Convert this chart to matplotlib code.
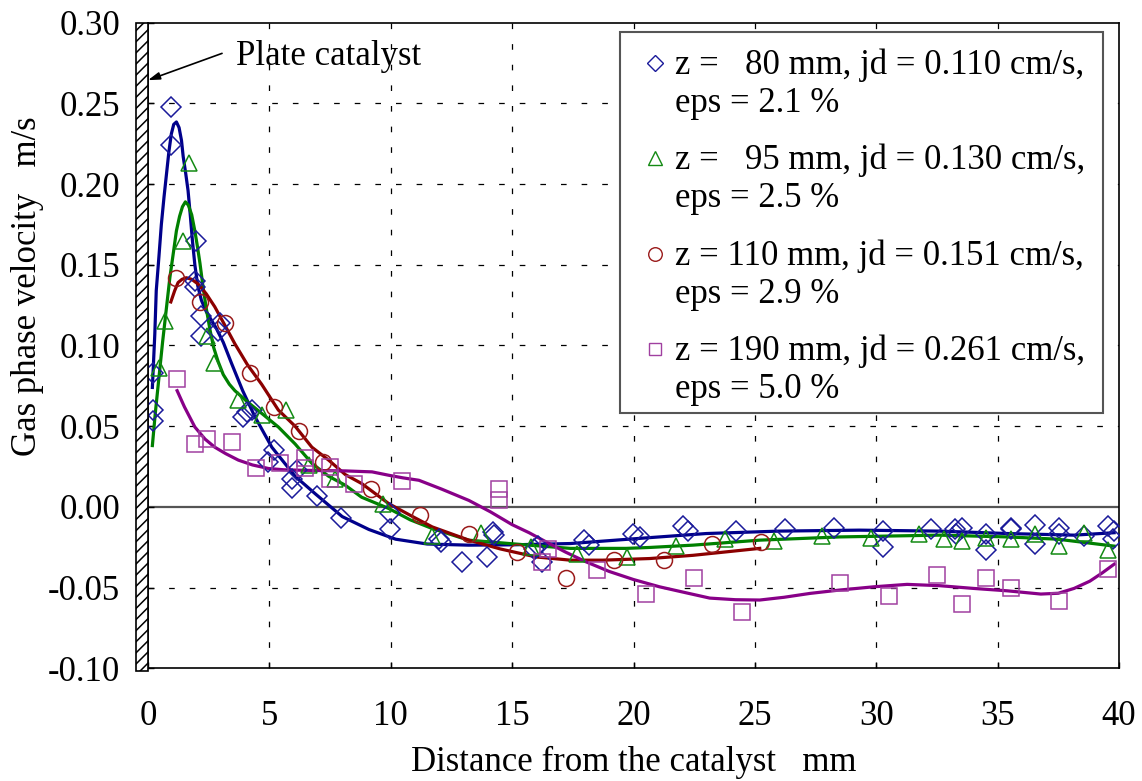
import matplotlib
matplotlib.use("Agg")
import matplotlib.pyplot as plt
from matplotlib.patches import Rectangle
from matplotlib.lines import Line2D

plt.rcParams['font.family'] = ['Liberation Serif', 'DejaVu Serif']
plt.rcParams['hatch.linewidth'] = 1.1

# ---- measured points -------------------------------------------------------
x80 = [0.2, 0.2, 0.2, 0.94, 0.94, 1.97, 1.93, 1.93, 2.18, 2.18, 2.96, 2.89,
       3.93, 4.06, 4.27, 5.19, 4.96, 5.92, 5.95, 6.13, 6.96, 7.93, 9.96, 9.96,
       11.98, 12.05, 12.95, 13.98, 14.2, 14.26, 15.9, 16.05, 16.22, 17.98, 18.18,
       19.97, 20.25, 22.04, 22.24, 24.24, 26.25, 28.26, 30.27, 30.27, 32.27,
       33.26, 33.3, 33.54, 34.53, 34.53, 35.54, 35.54, 36.53, 36.53, 37.53,
       37.53, 38.54, 39.53, 39.8, 39.75]
y80 = [0.083, 0.060, 0.053, 0.248, 0.224, 0.165, 0.140, 0.136, 0.118, 0.106,
       0.114, 0.109, 0.056, 0.059, 0.060, 0.035, 0.028, 0.017, 0.012, 0.023,
       0.007, -0.007, -0.004, -0.014, -0.020, -0.022, -0.034, -0.031, -0.0155,
       -0.0176, -0.026, -0.024, -0.034, -0.0206, -0.0237, -0.017, -0.0186,
       -0.012, -0.015, -0.015, -0.014, -0.013, -0.015, -0.025, -0.014, -0.014,
       -0.017, -0.013, -0.017, -0.027, -0.013, -0.014, -0.011, -0.023, -0.013,
       -0.017, -0.018, -0.012, -0.015, -0.020]

x95 = [0.45, 0.69, 1.45, 1.68, 2.41, 2.73, 3.69, 4.68, 5.68, 6.65, 7.7, 9.69,
       11.71, 13.7, 15.77, 17.67, 19.74, 21.74, 23.75, 25.77, 27.77, 29.78,
       31.78, 32.79, 33.53, 34.53, 35.54, 36.54, 37.53, 38.54, 39.53]
y95 = [0.086, 0.115, 0.165, 0.213, 0.106, 0.089, 0.066, 0.057, 0.060, 0.026,
       0.017, 0.002, -0.018, -0.016, -0.025, -0.029, -0.031, -0.024, -0.020,
       -0.021, -0.018, -0.019, -0.017, -0.020, -0.021, -0.019, -0.020, -0.017,
       -0.024, -0.016, -0.027]

x110 = [1.17, 2.14, 3.17, 4.2, 5.19, 6.2, 7.2, 9.2, 11.2, 13.22, 15.22, 17.22,
        19.21, 21.24, 23.24, 25.24]
y110 = [0.142, 0.127, 0.114, 0.083, 0.062, 0.047, 0.028, 0.011, -0.005, -0.017,
        -0.028, -0.044, -0.033, -0.033, -0.023, -0.022]

x190 = [1.2, 1.93, 2.44, 3.44, 4.45, 5.44, 6.45, 6.45, 7.48, 7.48, 8.47, 10.47,
        14.46, 14.46, 16.22, 16.49, 18.5, 20.5, 22.5, 24.49, 28.51, 30.51,
        32.51, 33.54, 34.53, 35.54, 37.53, 39.53]
y190 = [0.079, 0.039, 0.042, 0.040, 0.024, 0.027, 0.030, 0.024, 0.025, 0.017,
        0.014, 0.016, 0.0114, 0.0041, -0.034, -0.026, -0.039, -0.054, -0.044,
        -0.065, -0.047, -0.055, -0.042, -0.060, -0.044, -0.0505, -0.058, -0.0385]

# ---- fitted trend lines ----------------------------------------------------
fx80 = [0.18, 0.28, 0.34, 0.45, 0.55, 0.66, 0.76, 0.86, 0.96, 1.06, 1.17, 1.28,
        1.38, 1.45, 1.55, 1.65, 1.74, 1.83, 1.93, 2.05, 2.2, 2.4, 2.6, 2.8, 3.1,
        3.44, 3.9, 4.4, 5.1, 6.06, 6.9, 8.0, 9.1, 10.2, 11.5, 13.2, 15.0, 17.4,
        20.7, 23.0, 26.0, 29.3, 32.6, 35.4, 38.15, 39.8]
fy80 = [0.074, 0.107, 0.134, 0.155, 0.175, 0.192, 0.206, 0.220, 0.231, 0.237,
        0.2385, 0.235, 0.227, 0.217, 0.207, 0.196, 0.181, 0.165, 0.150, 0.137,
        0.128, 0.121, 0.116, 0.111, 0.102, 0.089, 0.072, 0.056, 0.037, 0.019,
        0.008, -0.006, -0.014, -0.020, -0.023, -0.0237, -0.0235, -0.0227,
        -0.019, -0.0165, -0.015, -0.0144, -0.015, -0.0165, -0.0175, -0.016]

fx95 = [0.18, 0.3, 0.45, 0.6, 0.75, 0.9, 1.05, 1.17, 1.3, 1.42, 1.54, 1.66,
        1.8, 1.93, 2.04, 2.14, 2.27, 2.4, 2.55, 2.7, 2.89, 3.1, 3.35, 3.58, 4.1,
        4.68, 5.37, 6.06, 6.75, 7.44, 8.13, 8.8, 9.92, 10.8, 11.71, 13.2, 15.7,
        17.4, 19.7, 20.7, 22.45, 25.2, 28.5, 32.6, 35.4, 37.47, 39.8]
fy95 = [0.038, 0.058, 0.080, 0.102, 0.122, 0.142, 0.158, 0.171, 0.180, 0.186,
        0.189, 0.187, 0.181, 0.171, 0.161, 0.151, 0.136, 0.123, 0.110, 0.099,
        0.090, 0.082, 0.076, 0.072, 0.065, 0.058, 0.0495, 0.039, 0.027, 0.019,
        0.0134, 0.006, -0.001, -0.008, -0.0134, -0.0206, -0.0237, -0.0257,
        -0.0257, -0.0251, -0.0237, -0.0206, -0.0186, -0.0175, -0.0186, -0.020,
        -0.0243]

fx110 = [0.94, 1.1, 1.24, 1.4, 1.58, 1.8, 2.07, 2.4, 2.75, 3.15, 3.58, 4.1,
         4.68, 5.37, 6.06, 6.75, 7.44, 8.13, 8.8, 9.92, 10.9, 11.71, 13.22,
         14.5, 15.98, 17.4, 18.73, 20.66, 22.45, 25.2]
fy110 = [0.127, 0.134, 0.139, 0.141, 0.142, 0.141, 0.138, 0.132, 0.124, 0.113,
         0.101, 0.088, 0.076, 0.060, 0.050, 0.037, 0.029, 0.020, 0.0145, 0.002,
         -0.006, -0.0124, -0.0206, -0.026, -0.031, -0.033, -0.033, -0.032,
         -0.030, -0.0257]

fx190 = [1.2, 1.5, 1.93, 2.35, 2.75, 3.2, 3.72, 4.3, 4.96, 5.6, 6.34, 7.2, 8.13,
         9.23, 9.92, 10.5, 11.16, 12.1, 13.22, 14.1, 15.0, 15.7, 16.39, 17.2,
         18.04, 19.0, 20.0, 21.07, 22.1, 23.14, 24.2, 25.2, 26.2, 27.27, 28.5,
         29.9, 31.27, 32.6, 34.0, 35.4, 36.78, 37.5, 38.15, 38.8, 39.3, 39.8]
fy190 = [0.072, 0.062, 0.0495, 0.042, 0.037, 0.033, 0.029, 0.026, 0.0238,
         0.023, 0.0227, 0.0225, 0.0223, 0.0217, 0.0196, 0.018, 0.0165, 0.011,
         0.004, -0.003, -0.011, -0.016, -0.0216, -0.028, -0.034, -0.040, -0.045,
         -0.0495, -0.053, -0.0565, -0.0575, -0.0577, -0.056, -0.0536, -0.0515,
         -0.0495, -0.048, -0.0488, -0.0505, -0.052, -0.054, -0.0535, -0.0505,
         -0.046, -0.041, -0.0355]

labels = ["z =   80 mm, jd = 0.110 cm/s,\neps = 2.1 %",
          "z =   95 mm, jd = 0.130 cm/s,\neps = 2.5 %",
          "z = 110 mm, jd = 0.151 cm/s,\neps = 2.9 %",
          "z = 190 mm, jd = 0.261 cm/s,\neps = 5.0 %"]

xticks = [0, 5, 10, 15, 20, 25, 30, 35, 40]
yticks = [-0.10, -0.05, 0.00, 0.05, 0.10, 0.15, 0.20, 0.25, 0.30]

# ---- figure ----------------------------------------------------------------
W, H = 1142, 781
fig = plt.figure(figsize=(W / 100, H / 100), dpi=100)
ax = fig.add_axes([148 / W, 1 - 668.3 / H, (1119 - 148) / W, (668.3 - 22.7) / H])
ax.set_xlim(0, 40)
ax.set_ylim(-0.10, 0.30)

FS = 25
ax.set_xticks(xticks)
ax.set_yticks(yticks)
ax.set_xticklabels([str(v) for v in xticks])
ax.set_yticklabels([f"{v:.2f}" for v in yticks])
ax.tick_params(axis='both', direction='in', length=4, width=1, labelsize=FS)
ax.tick_params(axis='y', pad=20)
ax.tick_params(axis='x', pad=23)
for s in ax.spines.values():
    s.set_linewidth(1.2)

# dashed grid
grid_kw = dict(color='black', lw=0.9, dashes=(4.5, 12), zorder=1)
for xv in xticks[1:-1]:
    ax.axvline(xv, **grid_kw)
for yv in yticks[1:-1]:
    if abs(yv) > 1e-9:
        ax.axhline(yv, **grid_kw)
ax.axhline(0.0, color='#555555', lw=1.6, zorder=1.5)

series = [
    (x80, y80, fx80, fy80, 'D', '#00008B', '#1a1a9a', 9.8),
    (x95, y95, fx95, fy95, '^', '#008000', '#138a13', 12.0),
    (x110, y110, fx110, fy110, 'o', '#8B0000', '#9a1a1a', 11.5),
    (x190, y190, fx190, fy190, 's', '#880088', '#a040a0', 11.0),
]
for xs, ys, fxs, fys, mk, lc, mc, ms in series:
    ax.plot(fxs, fys, color=lc, lw=2.3, zorder=3, solid_joinstyle='round')
    ax.plot(xs, ys, ls='none', marker=mk, ms=ms, mfc='none', mec=mc,
            mew=1.1, zorder=4)

# plate catalyst wall
plate = Rectangle((-0.5, -0.1018), 0.5, 0.4018, facecolor='white',
                  edgecolor='black', hatch='///', lw=1.2, clip_on=False,
                  zorder=6)
ax.add_patch(plate)

ax.annotate('', xy=(0.0, 0.2644), xytext=(3.05, 0.281),
            arrowprops=dict(arrowstyle='-|>,head_length=0.7,head_width=0.22',
                            color='black', lw=1.2, shrinkA=0, shrinkB=0),
            zorder=7)
ax.text(3.62, 0.2735, 'Plate catalyst', fontsize=FS, va='baseline',
        ha='left', zorder=7)

ax.set_xlabel('Distance from the catalyst   mm', fontsize=FS)
ax.set_ylabel('Gas phase velocity   m/s', fontsize=FS)
ax.xaxis.set_label_coords(0.5, (668.3 - 762) / 645.6)
ax.xaxis.label.set_va('center')
ax.yaxis.set_label_coords((28 - 148) / 971, (668.3 - 286) / 645.6)
ax.yaxis.label.set_va('center')


def fpx(x, y):
    return x / W, 1 - y / H


# legend box
lx0, ly0 = fpx(620, 413)
lx1, ly1 = fpx(1103, 32)
fig.add_artist(Rectangle((lx0, ly0), lx1 - lx0, ly1 - ly0,
                         transform=fig.transFigure, facecolor='white',
                         edgecolor='#555555', lw=1.5, zorder=10))
base_lines = [74, 169, 265, 360]
for (xs, ys, fxs, fys, mk, lc, mc, ms), lab, yb in zip(series, labels,
                                                        base_lines):
    first, second = lab.split("\n")
    tx, ty = fpx(675, yb)
    fig.text(tx, ty, first, fontsize=FS, va='baseline', ha='left', zorder=11)
    tx2, ty2 = fpx(675, yb + 38)
    fig.text(tx2, ty2, second, fontsize=FS, va='baseline', ha='left',
             zorder=11)
    mx, my = fpx(655, yb - 11)
    fig.add_artist(Line2D([mx], [my], transform=fig.transFigure, ls='none',
                          marker=mk, ms=ms * 0.85, mfc='none', mec=mc,
                          mew=1.0, zorder=11))

fig.savefig('out.png', dpi=100)
